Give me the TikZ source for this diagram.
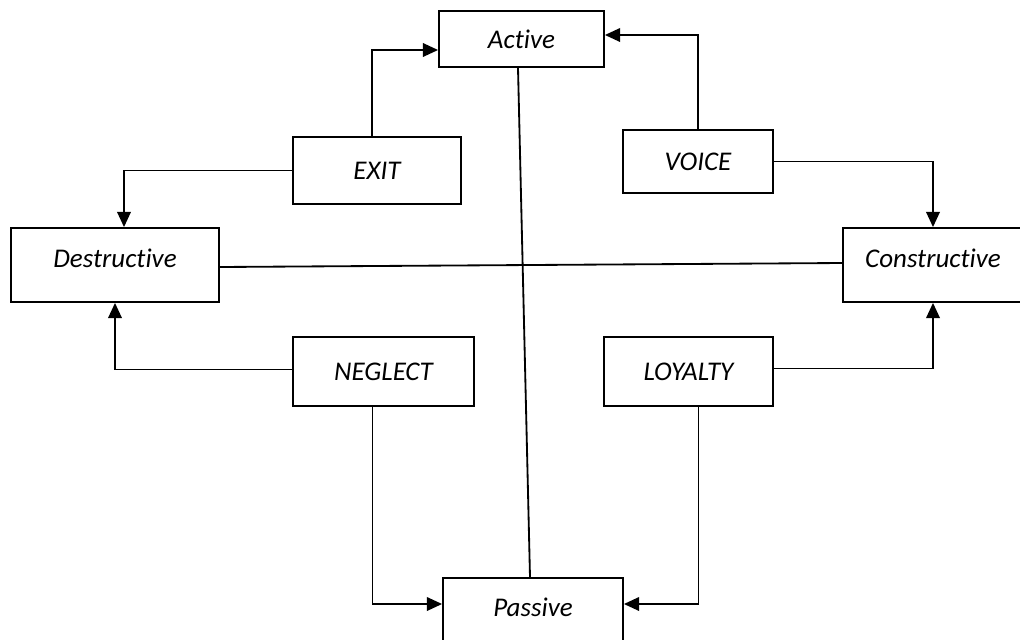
\documentclass[tikz,border=0pt]{standalone}
\usepackage{fontspec}
\setmainfont{Carlito}[RawFeature=-liga]
\usetikzlibrary{arrows.meta,calc}

\begin{document}
\begin{tikzpicture}
        [x=.025cm,y=-.025cm,line width=1.3pt,
         every node/.style={draw, rectangle, inner sep = 0pt, font=\fontsize{19.2}{23}\selectfont\itshape},
         arr/.style={-{Triangle[length=3.8mm,width=3.4mm]}}]
      \useasboundingbox (0,0) rectangle (1020,639);

      \node[minimum width=4.125cm, minimum height=1.4cm] (act) at (521.5,39) {Active};
      \node[minimum width=4.2cm, minimum height=1.675cm] (ex) at (377,170.5) {EXIT};
      \node[minimum width=3.75cm, minimum height=1.575cm] (vo) at (698,161.5) {VOICE};
      \node[minimum width=5.2cm, minimum height=1.85cm, text depth=.35cm] (des) at (115,265) {Destructive};
      \node[minimum width=4.5cm, minimum height=1.85cm, text depth=.35cm] (con) at (933,265) {Constructive};
      \node[minimum width=4.525cm, minimum height=1.725cm] (ne) at (383.5,371.5) {NEGLECT};
      \node[minimum width=4.225cm, minimum height=1.725cm] (lo) at (688.5,371.5) {LOYALTY};
      \node[minimum width=4.5cm, minimum height=1.8cm, text depth=.35cm] (pas) at (533,614) {Passive};

      % the two axes
      \draw ($(des.east)+(0,2)$) -- ($(con.west)+(0,-2)$);
      \draw ($(act.south)+(-3.5,0)$) -- ($(pas.north)+(-3,0)$);

      % responses
      \draw[arr] ($(ex.north)+(-5,0)$) |- ($(act.west)+(0,11)$);
      \draw[arr] (ex.west) -| ($(des.north)+(9,0)$);
      \draw[arr] (vo.north) |- ($(act.east)+(0,-4)$);
      \draw[arr] (vo.east) -| (con.north);
      \draw[arr] ($(ne.west)+(0,-2)$) -| (des.south);
      \draw[arr] ($(lo.east)+(0,-3)$) -| (con.south);
      \draw[arr] ($(ne.south)+(-11,0)$) |- ($(pas.west)+(0,-10)$);
      \draw[arr] ($(lo.south)+(10,0)$) |- ($(pas.east)+(0,-10)$);
    \end{tikzpicture}
\end{document}
